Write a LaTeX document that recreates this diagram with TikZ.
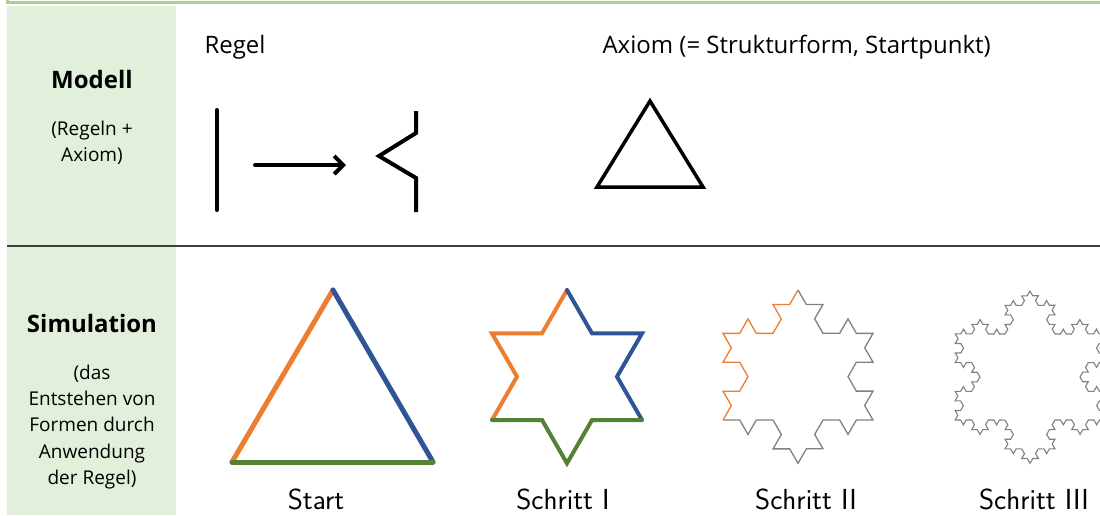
\documentclass[tikz,border=0pt]{standalone}
\usepackage{fontspec}
\setmainfont{Open Sans}
\usetikzlibrary{arrows.meta,decorations.fractals}
\definecolor{colfill}{HTML}{E2EFDA}
\definecolor{colframe}{HTML}{A9D18E}
\definecolor{korange}{HTML}{ED7D31}
\definecolor{kblue}{HTML}{2F5597}
\definecolor{kgreen}{HTML}{548235}
\definecolor{kgray}{HTML}{808080}
\tikzset{
  head/.style={font=\fontsize{24}{28}\selectfont\bfseries},
  sub/.style={font=\fontsize{19}{26.3}\selectfont,align=center},
  title/.style={font=\fontsize{24}{28}\selectfont,anchor=base west},
  steplabel/.style={font=\fontsize{29}{33}\selectfont\sffamily,anchor=base,inner ysep=1pt},
  rule/.style={line width=4,line cap=round},
  kochI/.style={line width=4,line cap=round,decoration=Koch snowflake},
  kochII/.style={line width=1.3,decoration=Koch snowflake},
  kochIII/.style={line width=1.1,kgray,decoration=Koch snowflake}
}
\begin{document}
\begin{tikzpicture}[x=1pt,y=-1pt,line join=miter]
\useasboundingbox (0,0) rectangle (1100,515);
\fill[colfill] (7,6) rectangle (176,515);
\draw[colframe,line width=3] (7,-3) |- (1100,2);
\draw[black!75,line width=1.6] (7,246) -- (1100,246);
\node[head] (modell) at (92,79) {Modell};
\node[sub] (modellsub) at (92,143) {(Regeln +\\Axiom)};
\node[head] (simulation) at (92,323) {Simulation};
\node[sub] (simsub) at (92,427) {(das\\Entstehen von\\Formen durch\\Anwendung\\der Regel)};
\node[title] (regel) at (201,53) {Regel};
\node[title] (axiom) at (599,53) {Axiom (= Strukturform, Startpunkt)};
% Regel
\draw[rule] (217,110) -- (217,210);
\coordinate (pfeila) at (255,165); \coordinate (pfeilb) at (346,165);
\draw[rule,-{Straight Barb[length=9pt,width=18pt]}] (pfeila) -- (pfeilb);
\draw[rule,line cap=butt] (416,111) -- (416,133) -- (379,156) -- (416,178) -- (416,212);
% Axiom
\draw[line width=3.5] (650,101) -- (597,187) -- (703,187) -- cycle;
% Start
\coordinate (s0a) at (333,290); \coordinate (s0l) at (232,462); \coordinate (s0r) at (433,462);
\draw[korange,line width=5,line cap=round] (s0l) -- (s0a);
\draw[kblue,line width=5,line cap=round] (s0a) -- (s0r);
\draw[kgreen,line width=5,line cap=round] (s0r) -- (s0l);
% Schritt I
\coordinate (s1a) at (567,290); \coordinate (s1l) at (492,420); \coordinate (s1r) at (642,420);
\draw[kochI,korange] decorate{(s1l) -- (s1a)};
\draw[kochI,kblue] decorate{(s1a) -- (s1r)};
\draw[kochI,kgreen] decorate{(s1r) -- (s1l)};
% Schritt II
\coordinate (s2a) at (798,290); \coordinate (s2l) at (723,420); \coordinate (s2r) at (873,420);
\draw[kochII,kgray] decorate{decorate{(s2a) -- (s2r) -- (s2l)}};
\draw[kochII,korange] decorate{decorate{(s2l) -- (s2a)}};
% Schritt III
\coordinate (s3a) at (1030,291); \coordinate (s3l) at (955,420); \coordinate (s3r) at (1105,420);
\draw[kochIII] decorate{decorate{decorate{(s3l) -- (s3a) -- (s3r) -- (s3l)}}};
\node[steplabel] (lstart) at (316,509) {Start};
\node[steplabel] (lschritt1) at (563,509) {Schritt I};
\node[steplabel] (lschritt2) at (806,509) {Schritt II};
\node[steplabel] (lschritt3) at (1034,509) {Schritt III};
\end{tikzpicture}
\end{document}
